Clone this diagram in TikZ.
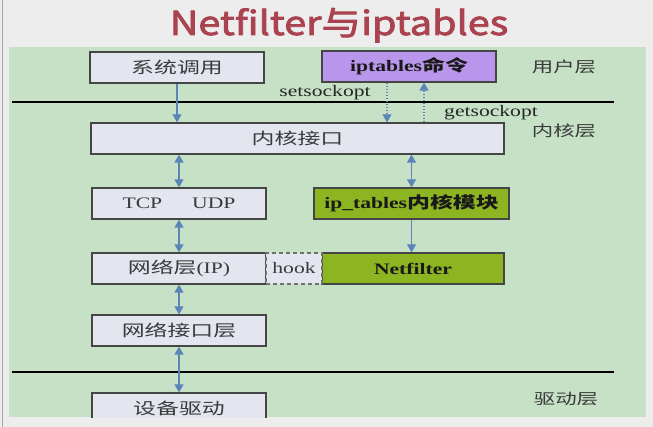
\documentclass[tikz,border=0pt]{standalone}
\usepackage{fontspec}
\setmainfont[FakeStretch=1.35]{Liberation Serif}
\newfontfamily\cj[FakeStretch=1.43]{Noto Sans CJK SC}
\newfontfamily\titlefont[FakeStretch=1.2,FakeBold=2.5]{Noto Sans CJK SC}
\usetikzlibrary{arrows.meta,calc}
\definecolor{bgray}{HTML}{EDEDED}
\definecolor{panel}{HTML}{C6E1C6}
\definecolor{boxfill}{HTML}{E3E5EF}
\definecolor{boxline}{HTML}{454545}
\definecolor{purp}{HTML}{B996EB}
\definecolor{lime}{HTML}{8DB522}
\definecolor{arrc}{HTML}{5B84B8}
\definecolor{titlered}{HTML}{AA424F}
\definecolor{txt}{HTML}{3A3A3A}
\definecolor{hookline}{HTML}{707070}
\tikzset{
  box/.style={draw=boxline, line width=1.3pt, fill=boxfill, minimum height=31pt,
    inner sep=0pt, text=txt, font=\fontsize{16}{16}\selectfont},
  gbox/.style={box, fill=lime, text=black!90},
  pbox/.style={box, fill=purp, text=black!90},
  hookbox/.style={box, draw=hookline, dash pattern=on 4pt off 3pt},
  layerlbl/.style={text=txt, font=\fontsize{15}{15}\cj\selectfont, inner sep=0pt},
  socklbl/.style={text=black!85, font=\fontsize{16}{16}\selectfont, inner sep=0pt},
  arrow1/.style={draw=arrc, line width=1.2pt, -{Triangle[width=9pt,length=8pt]}},
  arrow2/.style={draw=arrc, line width=1.2pt, {Triangle[width=9pt,length=8pt]}-{Triangle[width=9pt,length=8pt]}},
  dotarrow/.style={arrow1, dash pattern=on 1.5pt off 1.5pt},
  sepline/.style={draw=black, line width=2pt}
}
\begin{document}
\begin{tikzpicture}[x=1pt,y=-1pt]
\useasboundingbox (0,0) rectangle (653,427);
\fill[bgray] (0,0) rectangle (653,427);
\draw[gray!70, line width=1pt] (2,0) -- (2,427);
\fill[panel] (9,47) rectangle (646,417);

% title
\node[anchor=base, text=titlered, inner sep=0pt, font=\fontsize{33}{33}\titlefont] (title) at (339,35) {Netfilter与iptables};

% separators
\draw[sepline] (12,102) -- (614,102);
\draw[sepline] (12,372) -- (614,372);

% boxes
\node[box, minimum width=174pt] (sys) at (177,67.5) {\cj 系统调用};
\node[pbox, minimum width=174pt] (ipt) at (409,66.5) {\bfseries iptables{\cj 命令}};
\node[box, minimum width=413pt] (kif) at (297.5,138.5) {\cj 内核接口};
\node[box, minimum width=174pt] (tcp) at (179,203.5) {TCP\hspace{30pt}UDP};
\node[gbox, minimum width=195pt] (ipm) at (411.5,203.5) {\bfseries ip\_tables{\cj 内核模块}};
\node[box, minimum width=174pt] (net) at (179,268.5) {{\cj 网络层}(IP)};
\node[gbox, minimum width=182pt] (nf) at (413,268.5) {\bfseries Netfilter};
\node[hookbox, minimum width=56pt] (hook) at (294,268.5) {hook};
\node[box, minimum width=174pt] (nif) at (179,330.5) {\cj 网络接口层};
\begin{scope}
\clip (9,47) rectangle (646,417);
\node[box, minimum width=174pt] (dev) at (179,408.5) {\cj 设备驱动};
\end{scope}

% layer labels
\node[layerlbl] (ul) at (564,67) {用户层};
\node[layerlbl] (kl) at (564,131) {内核层};
\node[layerlbl] (dl) at (566,399) {驱动层};
\node[socklbl, anchor=base] (setl) at (325,97) {setsockopt};
\node[socklbl, anchor=base] (getl) at (491,117) {getsockopt};

% connectors
\draw[arrow1] (sys.south) -- (sys.south |- kif.north);
\coordinate (dA) at ($(ipt.south)+(-22,0)$);
\coordinate (dB) at (dA |- kif.north);
\draw[dotarrow] (dA) -- (dB);
\coordinate (uA) at ($(ipt.south)+(15,0)$);
\coordinate (uB) at (uA |- kif.north);
\draw[dotarrow] (uB) -- (uA);
\draw[arrow2] (tcp.north |- kif.south) -- (tcp.north);
\draw[arrow2] (ipm.north |- kif.south) -- (ipm.north);
\draw[arrow1] (ipm.south) -- (ipm.south |- nf.north);
\draw[arrow2] (tcp.south) -- (net.north);
\draw[arrow2] (net.south) -- (nif.north);
\draw[arrow2] (nif.south) -- (dev.north);
\end{tikzpicture}
\end{document}
